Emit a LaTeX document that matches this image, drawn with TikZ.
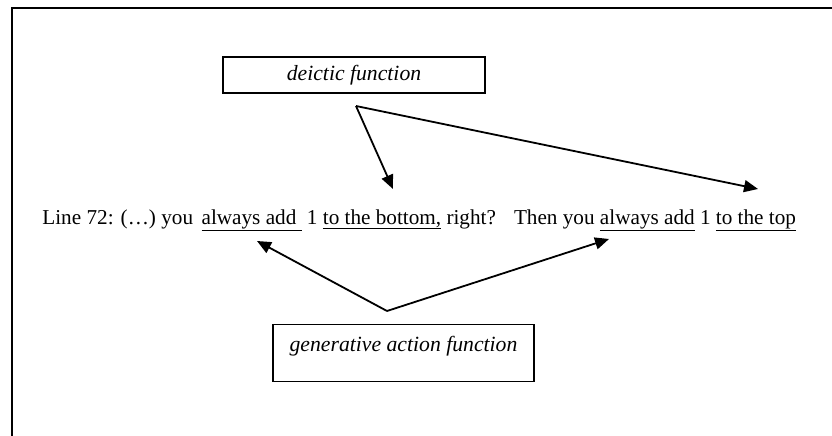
\documentclass[tikz,border=0pt]{standalone}
\usepackage{fontspec}
\setmainfont{Liberation Serif}
\usetikzlibrary{arrows.meta}
\begin{document}
\begin{tikzpicture}[x=1pt,y=-1pt,
  thick,label box/.style={draw,line width=1.3pt,font=\fontsize{21.7}{24}\selectfont\itshape,inner sep=0pt},
  pointer/.style={line width=1.8pt,-{Triangle[length=14pt,width=12pt]}}]

  \useasboundingbox (0,0) rectangle (832,436);
  \draw[line width=2pt] (832,8) -- (12,8) -- (12,436);

  \node[label box,minimum width=262pt,minimum height=36pt] (deictic) at (354,75) {deictic function};
  \node[label box,minimum width=261pt,anchor=north,text height=18pt,text depth=21pt,inner ysep=9pt] (generative) at (403.5,324) {generative action function};

  \node[anchor=base west,inner sep=0pt,font=\fontsize{21.2}{24}\selectfont] (line72) at (42,224)
   {Line 72: (\ldots) you\hspace{0.4em}\underline{always add\ }\hspace{0.25em}1 \underline{to the bottom,} right?\hspace{0.85em}Then you \underline{always add} 1 \underline{to the top}};

  \coordinate (dapex) at (356,106);
  \coordinate (gapex) at (387,311);
  \coordinate (t1) at (393,189);
  \coordinate (t2) at (758,189);
  \coordinate (t3) at (257,241);
  \coordinate (t4) at (609,239);

  \path[pointer]
   (dapex) edge (t1)
   (dapex) edge (t2)
   (gapex) edge (t3)
   (gapex) edge (t4);
\end{tikzpicture}
\end{document}
